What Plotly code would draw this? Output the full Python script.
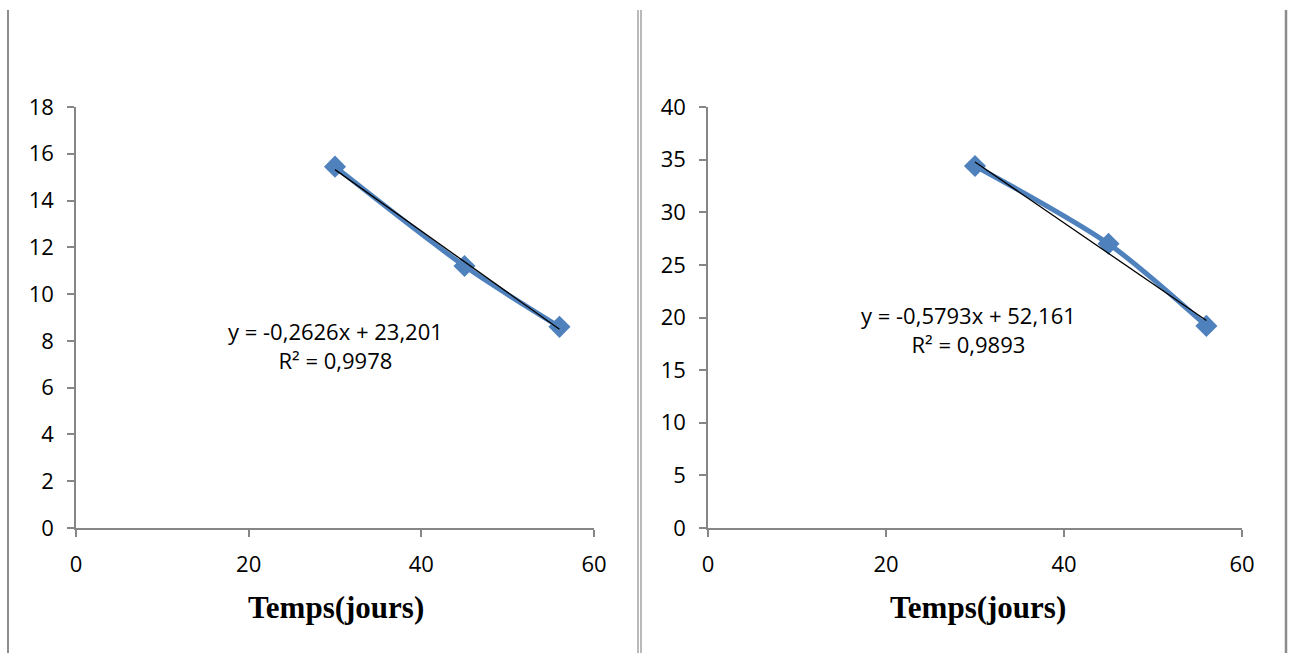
import plotly.graph_objects as go

W, H = 1290, 653

# Data
days = [30, 45, 56]
left_vals = [15.45, 11.2, 8.6]
right_vals = [34.4, 27.0, 19.2]
left_fit = (-0.2626, 23.201)
right_fit = (-0.5793, 52.161)
left_eq = ["y = -0,2626x + 23,201", "R² = 0,9978"]
right_eq = ["y = -0,5793x + 52,161", "R² = 0,9893"]
x_title = "Temps(jours)"

BLUE = "#4F81BD"
GRAY = "#868686"
FONT = "Open Sans"

def px_x(p):
    return p / W

def px_y(p):
    return 1 - p / H

fig = go.Figure()

panels = [
    ("x", "y", left_vals, left_fit),
    ("x2", "y2", right_vals, right_fit),
]

for xa, ya, vals, fit in panels:
    fig.add_trace(go.Scatter(
        x=days, y=vals, xaxis=xa, yaxis=ya, mode="lines+markers",
        line=dict(color=BLUE, width=5, shape="spline", smoothing=0.8),
        marker=dict(symbol="diamond", size=17, color=BLUE),
        showlegend=False, hoverinfo="skip"))
    tx = [days[0], days[-1]]
    ty = [fit[0] * v + fit[1] for v in tx]
    fig.add_trace(go.Scatter(
        x=tx, y=ty, xaxis=xa, yaxis=ya, mode="lines",
        line=dict(color="black", width=1.3),
        showlegend=False, hoverinfo="skip"))

axis_common = dict(
    showgrid=False, zeroline=False, showline=True, linecolor=GRAY, linewidth=1.5,
    ticks="outside", ticklen=7, tickcolor=GRAY, tickwidth=1.5, automargin=False,
    tickfont=dict(family=FONT, size=22, color="black"), fixedrange=True,
)

fig.update_layout(
    width=W, height=H, margin=dict(l=0, r=0, t=0, b=0),
    paper_bgcolor="white", plot_bgcolor="white",
    xaxis=dict(domain=[px_x(76), px_x(594)], range=[0, 60], dtick=20,
               anchor="y", ticklabelstandoff=9, **axis_common),
    yaxis=dict(domain=[px_y(528), px_y(107)], range=[0, 18], dtick=2,
               anchor="x", ticklabelstandoff=9, **axis_common),
    xaxis2=dict(domain=[px_x(708), px_x(1242)], range=[0, 60], dtick=20,
                anchor="y2", ticklabelstandoff=9, **axis_common),
    yaxis2=dict(domain=[px_y(528), px_y(107)], range=[0, 40], dtick=5,
                anchor="x2", ticklabelstandoff=9, **axis_common),
)

# Table borders
shapes = []
for xp, wd in [(8, 2), (638, 1.2), (641, 1.2), (1286, 2.5)]:
    shapes.append(dict(type="line", xref="paper", yref="paper",
                       x0=px_x(xp), x1=px_x(xp), y0=px_y(10), y1=0,
                       line=dict(color="#8c8c8c", width=wd)))
fig.update_layout(shapes=shapes)

ann = []
for cx, cy, eq in [(335, 345, left_eq), (968, 329, right_eq)]:
    ann.append(dict(text="<br>".join(eq), x=px_x(cx), y=px_y(cy),
                    xref="paper", yref="paper", align="center",
                    showarrow=False, xanchor="center", yanchor="middle",
                    font=dict(family=FONT, size=22, color="black")))
for cx in (336, 978):
    ann.append(dict(text="<b>" + x_title + "</b>", x=px_x(cx), y=px_y(607),
                    xref="paper", yref="paper", showarrow=False,
                    xanchor="center", yanchor="middle",
                    font=dict(family="Liberation Serif", size=31, color="black")))
fig.update_layout(annotations=ann)

fig.write_html("out.html")
